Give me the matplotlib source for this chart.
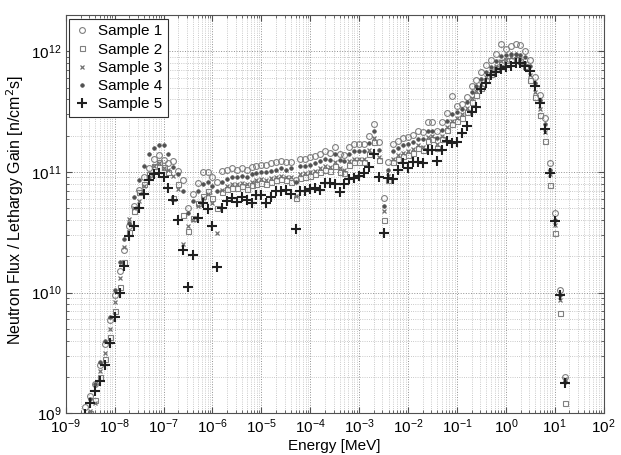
import numpy as np
import matplotlib
matplotlib.use("Agg")
import matplotlib.pyplot as plt
from matplotlib.ticker import LogLocator, NullFormatter

plt.rcParams['font.family'] = ['Liberation Sans', 'DejaVu Sans']

# energy grid, log10(E / MeV)
log_energy = [-8.6, -8.5, -8.4, -8.3, -8.2, -8.1, -8.0, -7.9, -7.8, -7.7,
              -7.6, -7.5, -7.4, -7.3, -7.2, -7.1, -7.0, -6.9, -6.8, -6.7,
              -6.6, -6.5, -6.4, -6.3, -6.2, -6.1, -6.0, -5.9, -5.8, -5.7,
              -5.6, -5.5, -5.4, -5.3, -5.2, -5.1, -5.0, -4.9, -4.8, -4.7,
              -4.6, -4.5, -4.4, -4.3, -4.2, -4.1, -4.0, -3.9, -3.8, -3.7,
              -3.6, -3.5, -3.4, -3.3, -3.2, -3.1, -3.0, -2.9, -2.8, -2.7,
              -2.6, -2.5, -2.4, -2.3, -2.2, -2.1, -2.0, -1.9, -1.8, -1.7,
              -1.6, -1.5, -1.4, -1.3, -1.2, -1.1, -1.0, -0.9, -0.8, -0.7,
              -0.6, -0.5, -0.4, -0.3, -0.2, -0.1, 0.0, 0.1, 0.2, 0.3,
              0.4, 0.5, 0.6, 0.7, 0.8, 0.9, 1.0, 1.1, 1.2]

# log10 of flux per lethargy [n/cm2 s]
sample1 = [9.05, 9.14, 9.24, 9.40, 9.57, 9.77, 9.98, 10.18, 10.35, 10.55,
           10.72, 10.85, 10.96, 11.03, 11.11, 11.14, 11.10, 11.07, 11.09, 11.01,
           10.93, 10.70, 10.82, 10.91, 11.00, 11.00, 10.96, 10.92, 11.01, 11.02,
           11.03, 11.02, 11.03, 11.02, 11.04, 11.05, 11.06, 11.06, 11.07, 11.08,
           11.09, 11.08, 11.08, 10.93, 11.11, 11.11, 11.12, 11.13, 11.15, 11.17,
           11.16, 11.21, 11.15, 11.14, 11.21, 11.23, 11.23, 11.23, 11.30, 11.40,
           11.25, 10.78, 11.08, 11.23, 11.26, 11.28, 11.29, 11.31, 11.34, 11.33,
           11.41, 11.41, 11.34, 11.41, 11.49, 11.63, 11.55, 11.56, 11.62, 11.71,
           11.76, 11.83, 11.89, 11.93, 11.98, 12.06, 12.02, 12.04, 12.06, 12.05,
           12.00, 11.93, 11.79, 11.64, 11.45, 11.07, 10.66, 10.02, 9.30]
sample2 = [np.nan, 9.00, 9.11, 9.30, 9.45, 9.63, 9.85, 10.05, 10.25, 10.50,
           10.68, 10.83, 10.90, 10.98, 11.05, 11.08, 11.04, 11.00, 10.78, 10.90,
           10.64, 10.51, 10.62, 10.74, 10.80, 10.84, 10.78, 10.70, 10.83, 10.86,
           10.87, 10.87, 10.88, 10.86, 10.89, 10.90, 10.91, 10.90, 10.92, 10.93,
           10.94, 10.93, 10.92, 10.78, 10.95, 10.96, 10.97, 10.98, 11.00, 11.02,
           11.01, 11.05, 11.00, 10.99, 11.06, 11.08, 11.08, 11.08, 11.15, 11.25,
           11.10, 10.60, 10.93, 11.08, 11.11, 11.13, 11.14, 11.16, 11.20, 11.18,
           11.26, 11.27, 11.20, 11.27, 11.35, 11.40, 11.42, 11.45, 11.50, 11.58,
           11.64, 11.70, 11.76, 11.81, 11.86, 11.91, 11.93, 11.93, 11.94, 11.92,
           11.88, 11.76, 11.62, 11.47, 11.26, 10.89, 10.49, 9.83, 9.08]
sample3 = [np.nan, 9.02, 9.08, 9.35, 9.50, 9.70, 9.92, 10.12, 10.38, 10.61,
           10.70, 10.76, 10.88, 10.96, 11.05, 11.07, 11.03, 11.02, 10.97, 10.86,
           10.40, 10.55, 10.60, 10.72, 10.78, 10.82, 10.74, 10.49, 10.85, 10.88,
           10.90, 10.90, 10.91, 10.90, 10.92, 10.93, 10.94, 10.93, 10.95, 10.96,
           10.97, 10.96, 10.96, 10.80, 10.98, 10.99, 11.00, 11.01, 11.03, 11.05,
           11.04, 11.08, 11.03, 11.02, 11.09, 11.11, 11.11, 11.11, 11.18, 11.28,
           11.12, 10.68, 10.97, 11.11, 11.14, 11.16, 11.17, 11.19, 11.22, 11.21,
           11.29, 11.30, 11.23, 11.30, 11.37, 11.42, 11.45, 11.48, 11.53, 11.61,
           11.67, 11.73, 11.79, 11.84, 11.88, 11.92, 11.93, 11.95, 11.96, 11.94,
           11.90, 11.80, 11.66, 11.52, 11.33, 10.98, 10.56, 9.94, 9.28]
sample4 = [8.98, 9.12, 9.24, 9.42, 9.60, 9.80, 10.02, 10.25, 10.44, 10.58,
           10.79, 10.93, 11.05, 11.15, 11.20, 11.22, 11.22, 11.15, 11.04, 10.98,
           10.84, 10.66, 10.76, 10.84, 10.90, 10.92, 10.88, 10.84, 10.92, 10.94,
           10.96, 10.96, 10.97, 10.96, 10.98, 10.99, 11.00, 11.00, 11.01, 11.02,
           11.03, 11.02, 11.03, 10.92, 11.05, 11.05, 11.06, 11.07, 11.09, 11.11,
           11.10, 11.15, 11.10, 11.09, 11.15, 11.17, 11.17, 11.17, 11.24, 11.34,
           11.18, 10.72, 11.02, 11.17, 11.20, 11.22, 11.23, 11.25, 11.27, 11.27,
           11.34, 11.34, 11.28, 11.35, 11.42, 11.48, 11.50, 11.52, 11.58, 11.66,
           11.71, 11.77, 11.83, 11.87, 11.92, 11.96, 11.97, 11.98, 11.98, 11.97,
           11.95, 11.88, 11.74, 11.60, 11.40, 11.02, 10.60, 9.98, 9.26]
sample5 = [8.99, 9.08, 9.18, 9.27, 9.40, 9.58, 9.80, 10.00, 10.22, 10.47,
           10.55, 10.70, 10.82, 10.93, 10.98, 10.99, 10.96, 10.87, 10.77, 10.60,
           10.35, 10.05, 10.31, 10.62, 10.74, 10.69, 10.55, 10.21, 10.70, 10.76,
           10.78, 10.75, 10.79, 10.77, 10.74, 10.81, 10.81, 10.74, 10.79, 10.84,
           10.84, 10.85, 10.82, 10.53, 10.84, 10.84, 10.86, 10.87, 10.85, 10.91,
           10.91, 10.90, 10.83, 10.90, 10.94, 10.95, 10.97, 10.99, 11.04, 11.15,
           10.96, 10.49, 10.95, 10.94, 11.02, 11.07, 11.03, 11.08, 11.08, 11.07,
           11.18, 11.18, 11.09, 11.18, 11.26, 11.24, 11.25, 11.32, 11.38, 11.50,
           11.54, 11.69, 11.74, 11.80, 11.83, 11.85, 11.87, 11.88, 11.90, 11.90,
           11.88, 11.84, 11.71, 11.57, 11.36, 10.99, 10.59, 9.98, 9.25]

labels = ['Sample 1', 'Sample 2', 'Sample 3', 'Sample 4', 'Sample 5']

energy = 10.0 ** np.array(log_energy)

fig = plt.figure(figsize=(6.21, 4.55), dpi=100)
ax = fig.add_axes([0.106, 0.092, 0.866, 0.875])

series = [sample1, sample2, sample3, sample4, sample5]
styles = [
    dict(marker='o', ms=4.2, mfc='none', mec='#808080', mew=0.8),
    dict(marker='s', ms=3.6, mfc='none', mec='#808080', mew=0.8),
    dict(marker='x', ms=3.5, mec='#707070', mew=0.9),
    dict(marker='o', ms=2.6, mfc='#505050', mec='#505050', mew=0.5),
    dict(marker='+', ms=6.5, mec='#202020', mew=1.5),
]
for vals, lab, st in zip(series, labels, styles):
    ax.plot(energy, 10.0 ** np.array(vals), ls='none', label=lab, **st)

ax.set_xscale('log')
ax.set_yscale('log')
ax.set_xlim(1e-9, 1e2)
ax.set_ylim(1e9, 2e12)

ax.xaxis.set_major_locator(LogLocator(base=10, numticks=20))
ax.xaxis.set_minor_locator(LogLocator(base=10, subs=np.arange(2, 10), numticks=20))
ax.xaxis.set_minor_formatter(NullFormatter())
ax.yaxis.set_minor_formatter(NullFormatter())

ax.grid(True, which='major', ls=':', color='#909090', lw=0.7)
ax.grid(True, which='minor', ls=':', color='#b8b8b8', lw=0.6)
ax.tick_params(which='both', direction='in', top=True, right=True, labelsize=11, color='#505050')
ax.tick_params(which='major', length=4, pad=3)
ax.tick_params(which='minor', length=2.5)
for sp in ax.spines.values():
    sp.set_color('#505050')
    sp.set_linewidth(0.8)

ax.set_xlabel('Energy [MeV]', fontsize=11, labelpad=2)
ax.set_ylabel('Neutron Flux / Lethargy Gain [n/cm$^2$s]', fontsize=11.5)
ax.yaxis.set_label_coords(-0.074, 0.51)

leg = ax.legend(loc='upper left', bbox_to_anchor=(0.005, 0.99), borderaxespad=0,
                fontsize=11, handlelength=1.0, handletextpad=0.6, labelspacing=0.28,
                borderpad=0.35, fancybox=False, framealpha=1, edgecolor='#303030')
leg.get_frame().set_linewidth(0.8)

fig.savefig('out.png', dpi=100)
